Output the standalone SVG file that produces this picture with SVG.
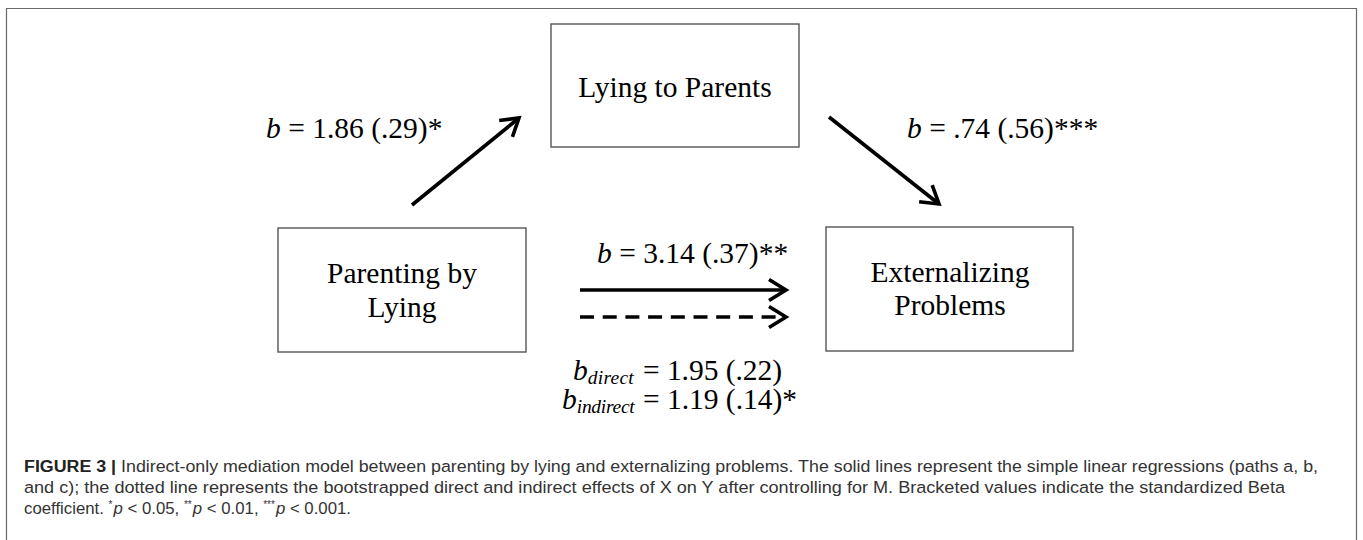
<svg xmlns="http://www.w3.org/2000/svg" width="1363" height="540" viewBox="0 0 1363 540">
<style>
  .box { fill: #ffffff; stroke: #555555; stroke-width: 1.4; }
  .nt { font-family: "Liberation Serif", "Times New Roman", serif; font-size: 29.5px; fill: #000000; text-anchor: middle; }
  .lb { font-family: "Liberation Serif", "Times New Roman", serif; font-size: 29.5px; fill: #000000; }
  .it { font-style: italic; }
  .sub { font-style: italic; font-size: 19.5px; }
  .edge { stroke: #000000; stroke-width: 3.6; fill: none; }
  .dash { stroke-dasharray: 14 8.7; }
  .cap { font-family: "Liberation Sans", Arial, sans-serif; font-size: 16.8px; fill: #333333; }
  .frame { fill: none; stroke: #6a6a6a; stroke-width: 1.2; }
</style>
<defs>
  <marker id="chev" markerUnits="userSpaceOnUse" markerWidth="40" markerHeight="40" viewBox="-25 -20 40 40" refX="0" refY="0" orient="auto" overflow="visible">
    <path d="M-17,-10.5 L0,0 L-17,10.5" fill="none" stroke="#000000" stroke-width="3.6" stroke-linejoin="miter"/>
  </marker>
</defs>
<rect width="1363" height="540" fill="#ffffff"/>
<path class="frame" d="M6.5,545 L6.5,8.5 L1356.5,8.5 L1356.5,545"/>

<g id="node-lying-to-parents">
  <rect class="box" x="551" y="24" width="248" height="123"/>
  <text class="nt" x="675" y="97">Lying to Parents</text>
</g>
<g id="node-parenting-by-lying">
  <rect class="box" x="278" y="228" width="248" height="124"/>
  <text class="nt" x="402" y="283">Parenting by</text>
  <text class="nt" x="402" y="317">Lying</text>
</g>
<g id="node-externalizing-problems">
  <rect class="box" x="826" y="227" width="247" height="124"/>
  <text class="nt" x="950" y="282">Externalizing</text>
  <text class="nt" x="950" y="315">Problems</text>
</g>

<g id="connectors">
  <line class="edge" x1="412" y1="205" x2="519" y2="118" marker-end="url(#chev)"/>
  <line class="edge" x1="829" y1="117" x2="939" y2="204" marker-end="url(#chev)"/>
  <line class="edge" x1="580" y1="290" x2="786" y2="290" marker-end="url(#chev)"/>
  <line class="edge dash" x1="580" y1="317" x2="786" y2="317" marker-end="url(#chev)"/>
</g>

<g id="labels">
  <text class="lb" x="266" y="138"><tspan class="it">b</tspan> = 1.86 (.29)*</text>
  <text class="lb" x="907" y="138"><tspan class="it">b</tspan> = .74 (.56)***</text>
  <text class="lb" x="597" y="263"><tspan class="it">b</tspan> = 3.14 (.37)**</text>
  <text class="lb" x="573" y="380"><tspan class="it">b</tspan><tspan class="sub" dy="4" textLength="46">direct</tspan></text>
  <text class="lb" x="643" y="380" textLength="139">= 1.95 (.22)</text>
  <text class="lb" x="562" y="409"><tspan class="it">b</tspan><tspan class="sub" dy="4" textLength="58">indirect</tspan></text>
  <text class="lb" x="643" y="409" textLength="154">= 1.19 (.14)*</text>
</g>

<g id="caption">
  <text class="cap" x="24" y="472" textLength="1294" lengthAdjust="spacingAndGlyphs"><tspan font-weight="bold" fill="#222222">FIGURE 3 |</tspan> Indirect-only mediation model between parenting by lying and externalizing problems. The solid lines represent the simple linear regressions (paths a, b,</text>
  <text class="cap" x="24" y="493" textLength="1261" lengthAdjust="spacingAndGlyphs">and c); the dotted line represents the bootstrapped direct and indirect effects of X on Y after controlling for M. Bracketed values indicate the standardized Beta</text>
  <text class="cap" x="24" y="514">coefficient. <tspan font-size="10px" baseline-shift="6px">*</tspan><tspan font-style="italic" dx="1">p</tspan> &lt; 0.05, <tspan font-size="10px" baseline-shift="6px">**</tspan><tspan font-style="italic" dx="1">p</tspan> &lt; 0.01, <tspan font-size="10px" baseline-shift="6px">***</tspan><tspan font-style="italic" dx="1">p</tspan> &lt; 0.001.</text>
</g>
</svg>
